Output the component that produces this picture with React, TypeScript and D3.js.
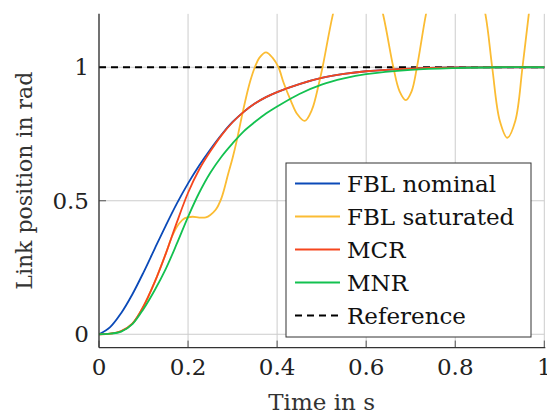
import React from "react";
import * as d3 from "d3";

// sampled by eye from the reference plot
const timeGrid = [0, 0.025, 0.05, 0.075, 0.1, 0.125, 0.15, 0.175, 0.2, 0.225, 0.25, 0.275, 0.3, 0.325, 0.35, 0.375, 0.4, 0.45, 0.5, 0.55, 0.6, 0.7, 0.8, 0.9, 1.0];
const nominalV = [0, 0.027, 0.08, 0.15, 0.232, 0.32, 0.407, 0.49, 0.565, 0.632, 0.692, 0.747, 0.795, 0.833, 0.864, 0.888, 0.907, 0.937, 0.96, 0.975, 0.985, 0.995, 0.999, 1.0, 1.0];
const mcrV = [0, 0.002, 0.012, 0.04, 0.105, 0.195, 0.302, 0.42, 0.53, 0.617, 0.685, 0.745, 0.794, 0.833, 0.864, 0.888, 0.907, 0.937, 0.96, 0.975, 0.985, 0.995, 0.999, 1.0, 1.0];
const mnrV = [0, 0.002, 0.01, 0.038, 0.095, 0.165, 0.245, 0.34, 0.44, 0.53, 0.605, 0.665, 0.715, 0.76, 0.795, 0.827, 0.853, 0.9, 0.935, 0.958, 0.974, 0.99, 0.997, 1.0, 1.0];

const satT = [0, 0.025, 0.05, 0.075, 0.1, 0.125, 0.15, 0.165, 0.18, 0.193, 0.21, 0.225, 0.24, 0.25, 0.262, 0.275, 0.29, 0.3, 0.31, 0.32, 0.33, 0.34, 0.35, 0.36, 0.375, 0.39, 0.403, 0.415, 0.43, 0.445, 0.462, 0.478, 0.494, 0.502, 0.525, 0.55, 0.58, 0.61, 0.639, 0.661, 0.675, 0.689, 0.702, 0.714, 0.734, 0.76, 0.8, 0.84, 0.868, 0.883, 0.9, 0.917, 0.935, 0.951, 0.965, 0.985, 1.0];
const satV = [0, 0.002, 0.012, 0.04, 0.105, 0.195, 0.302, 0.37, 0.415, 0.435, 0.44, 0.437, 0.438, 0.447, 0.466, 0.51, 0.6, 0.66, 0.73, 0.81, 0.885, 0.95, 1.0, 1.035, 1.056, 1.035, 1.0, 0.94, 0.878, 0.825, 0.799, 0.84, 0.94, 1.0, 1.196, 1.36, 1.45, 1.38, 1.19, 1.0, 0.91, 0.877, 0.91, 1.0, 1.196, 1.4, 1.55, 1.4, 1.196, 1.0, 0.8, 0.736, 0.8, 1.0, 1.196, 1.45, 1.6];

const xTicks = [0, 0.2, 0.4, 0.6, 0.8, 1];
const yTicks = [0, 0.5, 1];

const series = [
  { name: "FBL nominal", t: timeGrid, v: nominalV, color: "#0b4ab8" },
  { name: "FBL saturated", t: satT, v: satV, color: "#fbbc33" },
  { name: "MCR", t: timeGrid, v: mcrV, color: "#f5461e" },
  { name: "MNR", t: timeGrid, v: mnrV, color: "#13c150" },
];

const FONT = "'DejaVu Serif', serif";

export default function App() {
  const W = 547, H = 414;
  const x = d3.scaleLinear().domain([0, 1]).range([99, 544.3]);
  const y = d3.scaleLinear().domain([-0.05, 1.2]).range([347.6, 13.85]);
  const [x0, x1] = x.range();
  const [yb, yt] = y.range();

  const line = d3.line<[number, number]>()
    .x(d => x(d[0]))
    .y(d => y(d[1]))
    .curve(d3.curveCatmullRom.alpha(0.5));

  const legendX = 286, legendY = 163;
  const rowH = 33;

  return (
    <svg width={W} height={H} style={{ position: "absolute", left: 0, top: 0, background: "#fff" }}>
      <defs>
        <clipPath id="plot">
          <rect x={x0} y={yt} width={x1 - x0 + 1} height={yb - yt} />
        </clipPath>
      </defs>

      {/* grid */}
      {xTicks.map(t => (
        <line key={"gx" + t} x1={x(t)} x2={x(t)} y1={yt} y2={yb} stroke="#cccccc" strokeWidth={1} />
      ))}
      {yTicks.map(t => (
        <line key={"gy" + t} x1={x0} x2={x1} y1={y(t)} y2={y(t)} stroke="#cccccc" strokeWidth={1} />
      ))}

      {/* tick marks, inside */}
      {xTicks.map(t => (
        <line key={"tx" + t} x1={x(t)} x2={x(t)} y1={yb} y2={yb - 7} stroke="#555" strokeWidth={1} />
      ))}
      {yTicks.map(t => (
        <line key={"ty" + t} x1={x0} x2={x0 + 7} y1={y(t)} y2={y(t)} stroke="#555" strokeWidth={1} />
      ))}

      {/* reference */}
      <line x1={x0} x2={x1} y1={y(1)} y2={y(1)} stroke="#000" strokeWidth={2} strokeDasharray="7,5" />

      <g clipPath="url(#plot)">
        {series.map(s => (
          <path key={s.name}
            d={line(s.t.map((t, i) => [t, s.v[i]] as [number, number])) || ""}
            fill="none" stroke={s.color} strokeWidth={1.8} />
        ))}
      </g>

      {/* axes */}
      <line x1={x0} x2={x0} y1={yt} y2={yb} stroke="#333" strokeWidth={1.3} />
      <line x1={x0} x2={x1 + 1} y1={yb} y2={yb} stroke="#333" strokeWidth={1.3} />

      {/* tick labels */}
      {xTicks.map(t => (
        <text key={"lx" + t} x={x(t)} y={375} textAnchor="middle" fontFamily={FONT} fontSize={23} fill="#222">
          {String(t)}
        </text>
      ))}
      {yTicks.map(t => (
        <text key={"ly" + t} x={89} y={y(t) + 8} textAnchor="end" fontFamily={FONT} fontSize={23} fill="#222">
          {String(t)}
        </text>
      ))}

      {/* axis titles */}
      <text x={(x0 + x1) / 2} y={410} textAnchor="middle" fontFamily={FONT} fontSize={23} fill="#333">Time in s</text>
      <text transform={`translate(32,${(yt + yb) / 2}) rotate(-90)`} textAnchor="middle" fontFamily={FONT} fontSize={22} fill="#333">
        Link position in rad
      </text>

      {/* legend */}
      <rect x={legendX} y={legendY} width={245} height={174} fill="#fff" stroke="#333" strokeWidth={1} />
      {[...series.map(s => ({ name: s.name, color: s.color, dash: undefined as string | undefined })),
        { name: "Reference", color: "#000", dash: "7,5" }].map((e, i) => {
        const cy = legendY + 20.5 + i * rowH;
        return (
          <g key={e.name}>
            <line x1={legendX + 9} x2={legendX + 54} y1={cy} y2={cy} stroke={e.color}
              strokeWidth={e.dash ? 2 : 1.8} strokeDasharray={e.dash} />
            <text x={legendX + 61} y={cy + 8} fontFamily={FONT} fontSize={23} fill="#111">{e.name}</text>
          </g>
        );
      })}
    </svg>
  );
}
